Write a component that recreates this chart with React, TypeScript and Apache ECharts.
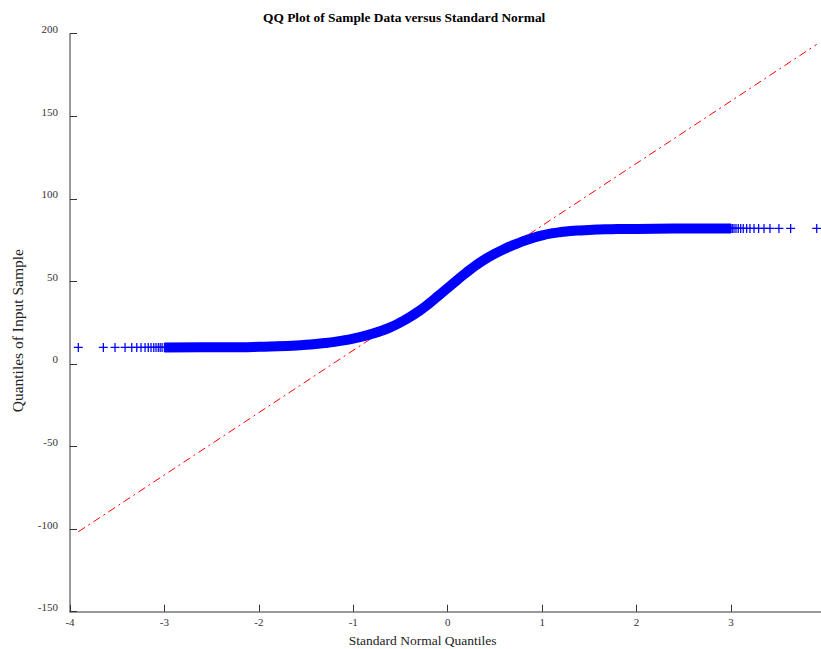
import React, { useEffect, useRef } from "react";
import * as echarts from "echarts";

// Sparse tail markers (standard normal quantile, sample quantile)
const leftTailX = [-3.912, -3.647, -3.523, -3.417, -3.346, -3.293, -3.248, -3.205, -3.171, -3.142, -3.113, -3.089, -3.065, -3.045, -3.025];
const leftTailY = [10.0, 10.0, 10.0, 10.0, 10.0, 10.0, 10.0, 10.0, 10.0, 10.0, 10.0, 10.0, 10.0, 10.0, 10.0];
const rightTailX = [3.014, 3.032, 3.053, 3.077, 3.103, 3.13, 3.166, 3.201, 3.244, 3.293, 3.35, 3.413, 3.508, 3.632, 3.908];
const rightTailY = [82.1, 82.1, 82.1, 82.1, 82.1, 82.1, 82.1, 82.1, 82.1, 82.1, 82.1, 82.1, 82.1, 82.1, 82.1];

// Dense central band
const bandX = [-3.0, -2.6, -2.2, -2.0, -1.8, -1.6, -1.5, -1.4, -1.3, -1.2, -1.1, -1.0, -0.9, -0.8, -0.7, -0.6, -0.5, -0.4, -0.3, -0.2, -0.1, 0.0, 0.1, 0.2, 0.3, 0.4, 0.5, 0.6, 0.7, 0.8, 0.9, 1.0, 1.1, 1.2, 1.3, 1.4, 1.5, 1.6, 1.8, 2.0, 2.4, 2.7, 3.0];
const bandY = [10.0, 10.1, 10.2, 10.4, 10.7, 11.2, 11.6, 12.1, 12.7, 13.4, 14.3, 15.4, 16.7, 18.3, 20.1, 22.4, 25.2, 28.4, 32.2, 36.5, 41.2, 46.0, 50.8, 55.5, 59.8, 63.6, 66.8, 69.6, 72.1, 74.4, 76.3, 77.9, 79.1, 79.9, 80.5, 80.9, 81.2, 81.4, 81.7, 81.8, 82.0, 82.05, 82.1];

// Reference line through the quartiles
const refLineX = [-3.912, 3.908];
const refLineY = [-101.6, 193.5];

const titleText = "QQ Plot of Sample Data versus Standard Normal";
const xName = "Standard Normal Quantiles";
const yName = "Quantiles of Input Sample";

const SERIF = '"Liberation Serif", "Times New Roman", serif';
const PLUS = "path://M0,4.3L10,4.3L10,5.7L0,5.7Z M4.3,0L5.7,0L5.7,10L4.3,10Z";

export default function App() {
  const ref = useRef<HTMLDivElement>(null);
  useEffect(() => {
    if (!ref.current) return;
    const chart = echarts.init(ref.current, null, { renderer: "svg" });
    const band = bandX.map((x, i) => [x, bandY[i]]);
    const markers = [
      ...leftTailX.map((x, i) => [x, leftTailY[i]]),
      ...band,
      ...rightTailX.map((x, i) => [x, rightTailY[i]]),
    ];
    chart.setOption({
      animation: false,
      backgroundColor: "#ffffff",
      title: {
        text: titleText,
        left: 258,
        top: 6,
        textStyle: { fontFamily: SERIF, fontWeight: "bold", fontSize: 13.4, color: "#000" },
      },
      grid: {
        left: 70,
        top: 33.7,
        width: 755.4,
        height: 578,
        containLabel: false,
        outerBoundsMode: "none",
      },
      xAxis: {
        type: "value",
        min: -4,
        max: 4,
        interval: 1,
        name: xName,
        nameLocation: "middle",
        nameGap: 22,
        nameTextStyle: { fontFamily: SERIF, fontSize: 13.5, color: "#222", padding: [0, 50, 0, 0] },
        axisLine: { show: true, onZero: false, lineStyle: { color: "#777", width: 1.5 } },
        axisTick: { show: true, inside: true, length: 7, lineStyle: { color: "#333", width: 1 } },
        axisLabel: { showMaxLabel: false, margin: 5, fontFamily: SERIF, fontSize: 11, color: "#333" },
        splitLine: { show: false },
      },
      yAxis: {
        type: "value",
        min: -150,
        max: 200,
        interval: 50,
        name: yName,
        nameLocation: "middle",
        nameGap: 45,
        nameTextStyle: { fontFamily: SERIF, fontSize: 15.5, color: "#222", padding: [0, 16, 0, 0] },
        axisLine: { show: true, onZero: false, lineStyle: { color: "#777", width: 1.5 } },
        axisTick: { show: true, inside: true, length: 7, lineStyle: { color: "#333", width: 1 } },
        axisLabel: {
          margin: 12,
          fontFamily: SERIF,
          fontSize: 11,
          color: "#333",
          verticalAlign: "bottom",
          lineHeight: 9,
        },
        splitLine: { show: false },
      },
      series: [
        {
          type: "line",
          data: refLineX.map((x, i) => [x, refLineY[i]]),
          showSymbol: false,
          silent: true,
          z: 1,
          lineStyle: { color: "#ff0000", width: 1, type: [8, 4, 2, 4] },
        },
        {
          type: "line",
          data: band,
          smooth: true,
          showSymbol: false,
          silent: true,
          z: 2,
          lineStyle: { color: "#0000ff", width: 10 },
        },
        {
          type: "scatter",
          data: markers,
          symbol: PLUS,
          symbolSize: 9,
          silent: true,
          z: 3,
          itemStyle: { color: "#0000ff", opacity: 1 },
        },
      ],
    });
    return () => chart.dispose();
  }, []);
  return (
    <div
      ref={ref}
      style={{ position: "absolute", left: 0, top: 0, width: 821, height: 649, overflow: "hidden" }}
    />
  );
}
